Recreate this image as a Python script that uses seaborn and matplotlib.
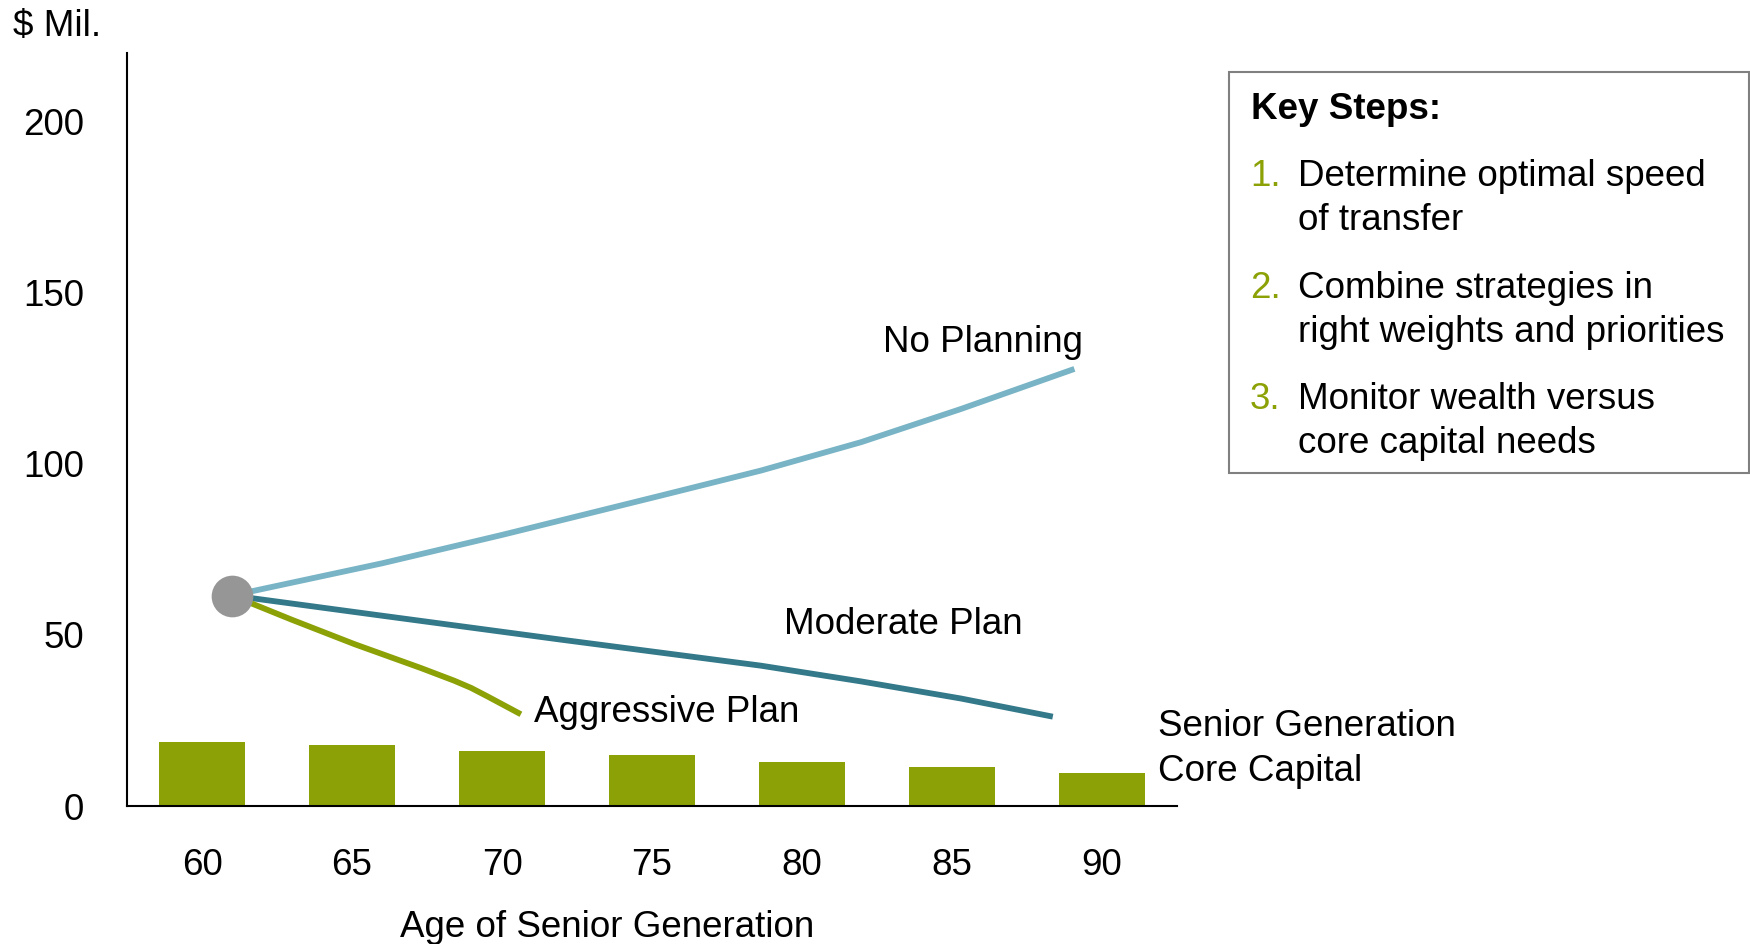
import matplotlib
matplotlib.use("Agg")
import matplotlib.pyplot as plt
import seaborn as sns
from matplotlib.patches import Rectangle

# ---- data -------------------------------------------------------------
ages = [60, 65, 70, 75, 80, 85, 90]
core_capital = [18.75, 17.7, 15.95, 14.8, 13.0, 11.3, 9.5]
age_tick_labels = ["60", "65", "70", "75", "80", "85", "90"]
value_ticks = [0, 50, 100, 150, 200]

start_age = 61.0
start_value = 61.5

no_planning_age = [61.0, 66.0, 70.0, 75.3, 78.63, 81.97, 85.3, 89.08]
no_planning_value = [61.5, 70.9, 79.2, 90.7, 98.0, 106.3, 116.0, 127.7]

moderate_age = [61.0, 66.0, 71.97, 75.3, 78.63, 81.97, 85.3, 88.36]
moderate_value = [61.5, 55.6, 48.6, 44.8, 41.0, 36.4, 31.4, 26.1]

aggressive_age = [61.0, 63.0, 65.08, 67.3, 68.41, 68.97, 69.52, 70.63]
aggressive_value = [61.5, 54.4, 47.3, 40.3, 36.6, 34.5, 32.0, 26.8]

key_steps = [
    ("1.", ["Determine optimal speed", "of transfer"]),
    ("2.", ["Combine strategies in", "right weights and priorities"]),
    ("3.", ["Monitor wealth versus", "core capital needs"]),
]

# ---- style ------------------------------------------------------------
OLIVE = "#8CA106"
LIGHT_BLUE = "#78B4C5"
TEAL = "#33798A"
GRAY = "#969696"
FS = 26.5

sns.set_style("white")
plt.rcParams["font.family"] = ["Liberation Sans", "DejaVu Sans"]
plt.rcParams["text.color"] = "black"
plt.rcParams["axes.labelcolor"] = "black"
plt.rcParams["xtick.color"] = "black"
plt.rcParams["ytick.color"] = "black"

W, H = 1750, 944
fig = plt.figure(figsize=(W / 100, H / 100), dpi=100)


def fx(x):
    return x / W


def fy(y):
    return 1 - y / H


ax = fig.add_axes([fx(127), fy(806), fx(1177) - fx(127), fy(53) - fy(806)])

# core capital bars
sns.barplot(x=ages, y=core_capital, native_scale=True, width=0.567,
            color=OLIVE, saturation=1, edgecolor="none", ax=ax)

# wealth paths
line_kw = dict(linewidth=4.2, solid_capstyle="butt", solid_joinstyle="round",
               sort=False, ax=ax)
sns.lineplot(x=no_planning_age, y=no_planning_value, color=LIGHT_BLUE, **line_kw)
sns.lineplot(x=moderate_age, y=moderate_value, color=TEAL, **line_kw)
sns.lineplot(x=aggressive_age, y=aggressive_value, color=OLIVE, **line_kw)

# starting point
sns.scatterplot(x=[start_age], y=[start_value], s=900, color=GRAY,
                linewidth=0, zorder=5, ax=ax)

ax.set_xlim(57.5, 92.5)
ax.set_ylim(0, 220)
ax.set_xticks(ages)
ax.set_xticklabels(age_tick_labels)
ax.set_yticks(value_ticks)
ax.tick_params(axis="both", length=0, labelsize=FS, colors="black")
ax.tick_params(axis="x", pad=30)
ax.tick_params(axis="y", pad=31)

for side in ["top", "right"]:
    ax.spines[side].set_visible(False)
for side in ["left", "bottom"]:
    ax.spines[side].set_color("black")
    ax.spines[side].set_linewidth(1.5)

ax.set_xlabel("Age of Senior Generation", fontsize=FS, color="black")
ax.xaxis.set_label_coords((607 - 127) / 1050, -(937 - 806) / 753)
ax.xaxis.label.set_verticalalignment("baseline")
ax.set_ylabel("")

# series labels
txt_kw = dict(fontsize=FS, ha="left", va="baseline", color="black")
ax.text(82.7, 132.5, "No Planning", **txt_kw)
ax.text(79.4, 50.2, "Moderate Plan", **txt_kw)
ax.text(71.07, 24.5, "Aggressive Plan", **txt_kw)
ax.text(91.87, 20.4, "Senior Generation", clip_on=False, **txt_kw)
ax.text(91.87, 7.3, "Core Capital", clip_on=False, **txt_kw)

# unit label
fig.text(fx(13), fy(36), "$ Mil.", fontsize=FS, ha="left", va="baseline",
         color="black")

# key steps panel
fig.patches.append(Rectangle((fx(1229), fy(473)), fx(1749) - fx(1229),
                             fy(72) - fy(473), transform=fig.transFigure,
                             facecolor="white", edgecolor="#808080",
                             linewidth=1.5))
fig.text(fx(1251), fy(119), "Key Steps:", fontsize=FS, fontweight="bold",
         ha="left", va="baseline", color="black")
baselines = [(186, 230), (298, 342), (409, 453)]
for (num, lines), (b1, b2) in zip(key_steps, baselines):
    fig.text(fx(1250), fy(b1), num, fontsize=FS, color=OLIVE,
             ha="left", va="baseline")
    fig.text(fx(1298), fy(b1), lines[0], fontsize=FS, ha="left",
             va="baseline", color="black")
    fig.text(fx(1298), fy(b2), lines[1], fontsize=FS, ha="left",
             va="baseline", color="black")

fig.savefig("out.png", dpi=100)
